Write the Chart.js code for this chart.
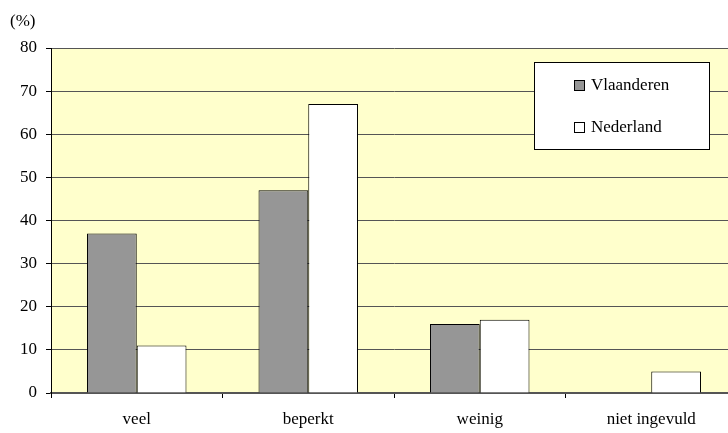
<!DOCTYPE html>
<html lang="nl">
<head>
<meta charset="UTF-8">
<title>Vlaanderen - Nederland</title>
<script src="https://cdn.jsdelivr.net/npm/chart.js"></script>
<style>
  html, body { margin: 0; padding: 0; background: #fff; overflow: hidden; }
  #wrap { width: 740px; height: 433px; }
</style>
</head>
<body>
<div id="wrap"><canvas id="grafiek" width="740" height="433"></canvas></div>
<script>
  // gegevens
  const categorieen = ['veel', 'beperkt', 'weinig', 'niet ingevuld'];
  const vlaanderen = [37, 47, 16, 0];
  const nederland = [11, 67, 17, 5];
  const reeksNamen = ['Vlaanderen', 'Nederland'];
  const yMax = 80;
  const yStap = 10;

  const lettertype = '"Liberation Serif", "Times New Roman", serif';
  const grootte = 17;

  // gele achtergrond van het plotvlak
  const achtergrond = {
    id: 'achtergrond',
    beforeDraw(chart) {
      const { ctx, chartArea: a } = chart;
      ctx.save();
      ctx.fillStyle = '#FFFFCC';
      ctx.fillRect(a.left, a.top, a.right - a.left, a.bottom - a.top);
      ctx.restore();
    }
  };

  // "(%)" boven de y-as en legende in een kader
  const extra = {
    id: 'extra',
    afterDraw(chart) {
      const ctx = chart.ctx;
      ctx.save();
      ctx.font = grootte + 'px ' + lettertype;
      ctx.fillStyle = '#000';
      ctx.textBaseline = 'middle';
      ctx.textAlign = 'left';
      ctx.fillText('(%)', 10, 22);

      // legende
      const bx = 534, by = 62, bw = 175, bh = 87;
      ctx.fillStyle = '#fff';
      ctx.fillRect(bx, by, bw, bh);
      ctx.strokeStyle = '#000';
      ctx.lineWidth = 1;
      ctx.strokeRect(bx + 0.5, by + 0.5, bw, bh);
      chart.data.datasets.forEach((ds, i) => {
        const y = 85 + i * 42;
        ctx.fillStyle = ds.backgroundColor;
        ctx.fillRect(574, y - 5, 11, 11);
        ctx.strokeRect(574.5, y - 4.5, 10, 10);
        ctx.fillStyle = '#000';
        ctx.fillText(ds.label, 591, y + 1);
      });
      ctx.restore();
    }
  };

  new Chart(document.getElementById('grafiek'), {
    type: 'bar',
    data: {
      labels: categorieen,
      datasets: [
        {
          label: reeksNamen[0],
          data: vlaanderen,
          backgroundColor: '#969696',
          borderColor: '#000',
          borderWidth: 1,
          categoryPercentage: 0.58,
          barPercentage: 1
        },
        {
          label: reeksNamen[1],
          data: nederland,
          backgroundColor: '#ffffff',
          borderColor: '#000',
          borderWidth: 1,
          categoryPercentage: 0.58,
          barPercentage: 1
        }
      ]
    },
    options: {
      responsive: false,
      animation: false,
      layout: { padding: { left: 10, top: 48, right: 3, bottom: 0 } },
      plugins: {
        legend: { display: false },
        tooltip: { enabled: false }
      },
      scales: {
        x: {
          grid: {
            offset: true,
            drawOnChartArea: false,
            drawTicks: true,
            tickLength: 5,
            tickColor: '#000'
          },
          border: { color: '#555', width: 2 },
          ticks: {
            color: '#000',
            padding: 11,
            maxRotation: 0,
            font: { family: lettertype, size: grootte }
          },
          afterFit(s) { s.height = 40; }
        },
        y: {
          min: 0,
          max: yMax,
          ticks: {
            stepSize: yStap,
            color: '#000',
            padding: 9,
            font: { family: lettertype, size: grootte }
          },
          grid: {
            color: '#555',
            tickColor: '#000',
            tickLength: 5
          },
          border: { color: '#000', width: 1 },
          afterFit(s) { s.width = 41; }
        }
      }
    },
    plugins: [achtergrond, extra]
  });
</script>
</body>
</html>
